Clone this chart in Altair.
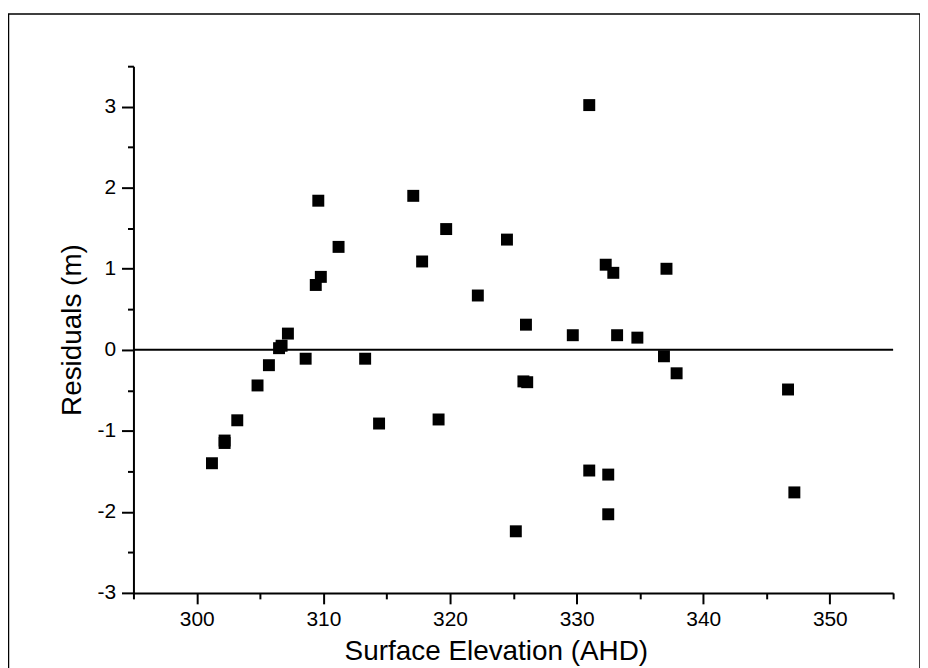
import altair as alt
import pandas as pd

# Surface elevation (AHD) and residuals (m)
elevation = [301.2, 302.2, 302.2, 303.2, 304.8, 305.7, 306.5, 306.7, 307.2, 308.6,
             309.4, 309.6, 309.8, 311.2, 313.3, 314.4, 317.1, 317.8, 319.1, 319.7,
             322.2, 324.5, 325.2, 325.8, 326.0, 326.1, 329.7, 331.0, 331.0, 332.3,
             332.5, 332.5, 332.9, 333.2, 334.8, 336.9, 337.1, 337.9, 346.7, 347.2]
residuals = [-1.40, -1.12, -1.15, -0.87, -0.44, -0.19, 0.02, 0.05, 0.20, -0.11,
             0.80, 1.84, 0.90, 1.27, -0.11, -0.91, 1.90, 1.09, -0.86, 1.49,
             0.67, 1.36, -2.24, -0.39, 0.31, -0.40, 0.18, 3.02, -1.49, 1.05,
             -1.54, -2.03, 0.95, 0.18, 0.15, -0.08, 1.00, -0.29, -0.49, -1.76]

x_ticks = [295, 300, 305, 310, 315, 320, 325, 330, 335, 340, 345, 350, 355]
y_ticks = [-3, -2.5, -2, -1.5, -1, -0.5, 0, 0.5, 1, 1.5, 2, 2.5, 3, 3.5]

df = pd.DataFrame({"elev": elevation, "resid": residuals})

FONT = "Liberation Sans"
W, H = 763, 529

x_scale = alt.Scale(domain=[295, 355], nice=False, zero=False)
y_scale = alt.Scale(domain=[-3, 3.5], nice=False, zero=False)

x_axis = alt.Axis(
    values=x_ticks,
    labelExpr="datum.value % 10 === 0 ? '' + datum.value : ''",
    tickSize={"condition": {"test": "datum.value % 10 === 0", "value": 11}, "value": 6},
    grid=False, domainColor="black", domainWidth=2, tickColor="black", tickWidth=2,
    labelFont=FONT, labelFontSize=21, labelColor="black", labelPadding=5,
    labelFlush=False, labelOverlap=False,
    title="Surface Elevation (AHD)", titleFont=FONT, titleFontSize=28,
    titleFontWeight="normal", titleColor="black",
    titleX=364, titleY=67, titleAlign="center", titleBaseline="alphabetic",
)
y_axis = alt.Axis(
    values=y_ticks,
    labelExpr="datum.value % 1 === 0 ? '' + datum.value : ''",
    tickSize={"condition": {"test": "datum.value % 1 === 0", "value": 12}, "value": 6},
    grid=False, domainColor="black", domainWidth=2, tickColor="black", tickWidth=2,
    labelFont=FONT, labelFontSize=21, labelColor="black", labelPadding=6,
    labelFlush=False, labelOverlap=False,
    title="Residuals (m)", titleFont=FONT, titleFontSize=28,
    titleFontWeight="normal", titleColor="black",
    titleX=-61, titleY=H / 2, titleAngle=270, titleAlign="center", titleBaseline="middle",
)

points = alt.Chart(df).mark_square(size=144, color="black", opacity=1, filled=True).encode(
    x=alt.X("elev:Q", scale=x_scale, axis=x_axis),
    y=alt.Y("resid:Q", scale=y_scale, axis=y_axis),
)

zero_line = alt.Chart(pd.DataFrame({"v": [0]})).mark_rule(color="black", strokeWidth=2).encode(
    y=alt.Y("v:Q", scale=y_scale),
    x=alt.value(0),
    x2=alt.value(W),
)

frame = alt.Chart(pd.DataFrame({"v": [0]})).mark_rect(
    fill=None, fillOpacity=0, stroke="black", strokeWidth=1.5, clip=False
).encode(
    x=alt.value(-125.5), x2=alt.value(790),
    y=alt.value(-52.5), y2=alt.value(640),
)

chart = alt.layer(frame, zero_line, points).properties(
    width=W, height=H,
    padding={"left": 126, "top": 57, "right": 27, "bottom": 74},
    autosize=alt.AutoSizeParams(type="none"),
    background="white",
).configure_view(stroke=None)

chart.save("out.html", embed_options={"renderer": "svg", "actions": False})
